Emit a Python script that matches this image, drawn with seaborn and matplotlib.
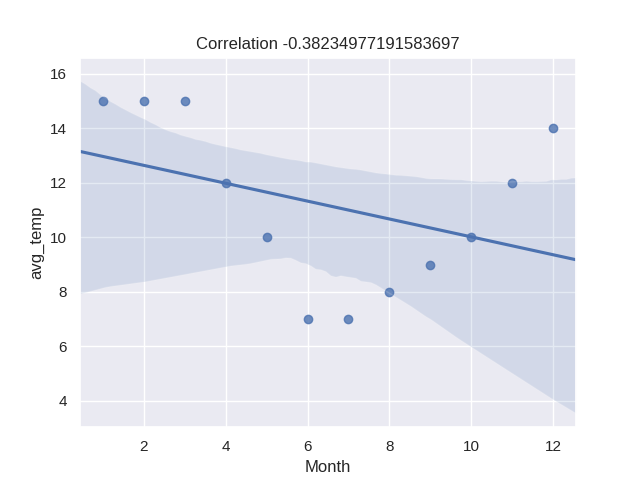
import numpy as np
import pandas as pd
import matplotlib
matplotlib.use("Agg")
import matplotlib.pyplot as plt
import seaborn as sns

months = [1, 2, 3, 4, 5, 6, 7, 8, 9, 10, 11, 12]
avg_temp = [15, 15, 15, 12, 10, 7, 7, 8, 9, 10, 12, 14]
title_text = "Correlation -0.38234977191583697"

df = pd.DataFrame({"Month": months, "avg_temp": avg_temp})

sns.set_theme()
plt.rcParams['font.family'] = ['Liberation Sans', 'DejaVu Sans']
fig, ax = plt.subplots(figsize=(6.4, 4.8), dpi=100)
sns.regplot(data=df, x="Month", y="avg_temp", ax=ax, seed=1, truncate=False)
ax.set_ylim(3.03, 16.6)
ax.set_title(title_text)
fig.savefig("out.png")
